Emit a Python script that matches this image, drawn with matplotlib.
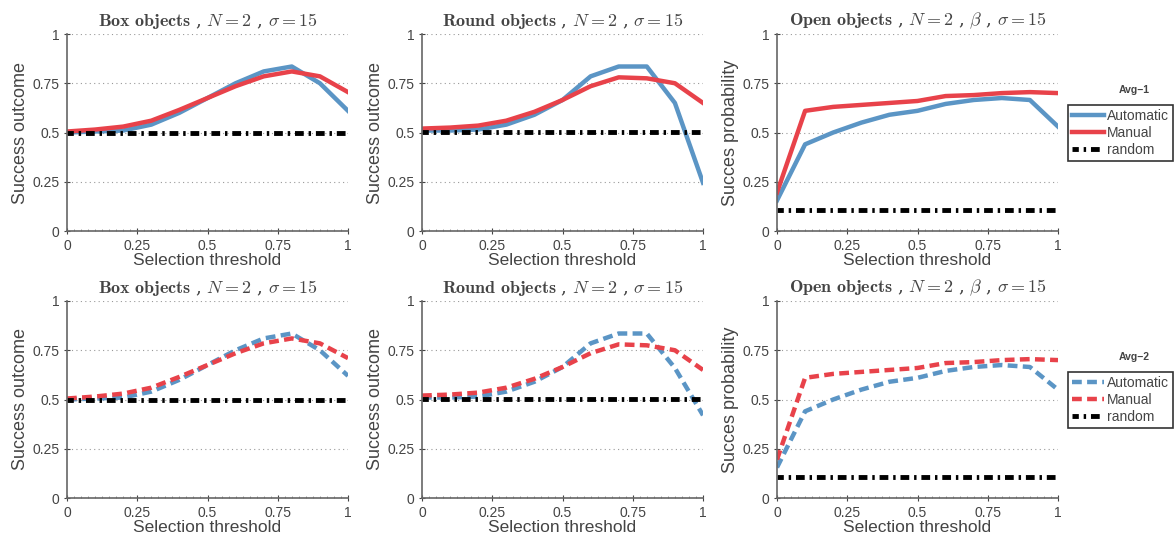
import numpy as np
import matplotlib
matplotlib.use("Agg")
import matplotlib.pyplot as plt
from matplotlib.ticker import MultipleLocator

plt.rcParams['font.family'] = ['Liberation Sans', 'DejaVu Sans']
plt.rcParams['mathtext.fontset'] = 'cm'

# data
thr = [0, 0.1, 0.2, 0.3, 0.4, 0.5, 0.6, 0.7, 0.8, 0.9, 1.0]

box_auto_1 = [0.50, 0.505, 0.51, 0.54, 0.60, 0.675, 0.75, 0.81, 0.835, 0.75, 0.61]
box_man_1 = [0.505, 0.515, 0.53, 0.56, 0.615, 0.675, 0.735, 0.785, 0.81, 0.785, 0.705]
round_auto_1 = [0.51, 0.51, 0.515, 0.54, 0.59, 0.665, 0.785, 0.835, 0.835, 0.65, 0.245]
round_man_1 = [0.52, 0.525, 0.535, 0.56, 0.605, 0.665, 0.735, 0.78, 0.775, 0.75, 0.65]
open_auto_1 = [0.155, 0.44, 0.50, 0.55, 0.59, 0.61, 0.645, 0.665, 0.675, 0.665, 0.53]
open_man_1 = [0.195, 0.61, 0.63, 0.64, 0.65, 0.66, 0.685, 0.69, 0.70, 0.705, 0.70]

box_auto_2 = [0.50, 0.505, 0.51, 0.54, 0.60, 0.675, 0.75, 0.81, 0.835, 0.75, 0.62]
box_man_2 = [0.505, 0.515, 0.53, 0.56, 0.615, 0.675, 0.735, 0.785, 0.81, 0.785, 0.71]
round_auto_2 = [0.51, 0.51, 0.515, 0.54, 0.59, 0.665, 0.785, 0.835, 0.835, 0.66, 0.42]
round_man_2 = [0.52, 0.525, 0.535, 0.56, 0.605, 0.665, 0.735, 0.78, 0.775, 0.75, 0.65]
open_auto_2 = [0.155, 0.44, 0.50, 0.55, 0.59, 0.61, 0.645, 0.665, 0.675, 0.665, 0.55]
open_man_2 = [0.195, 0.61, 0.63, 0.64, 0.65, 0.66, 0.685, 0.69, 0.70, 0.705, 0.70]

random_box = 0.50
random_round = 0.505
random_open = 0.105

titles = [r"$\bf{Box\ objects}$ , $N=2$ , $\sigma=15$",
          r"$\bf{Round\ objects}$ , $N=2$ , $\sigma=15$",
          r"$\bf{Open\ objects}$ , $N=2$ , $\beta$ , $\sigma=15$"]
ylabels = ["Success outcome", "Success outcome", "Succes probability"]
ticks = [0, 0.25, 0.5, 0.75, 1]
ticklabels = ["0", "0.25", "0.5", "0.75", "1"]
avg_names = ["Avg\u22121", "Avg\u22122"]

blue = "#5b95c5"
red = "#e8424a"
grey = "#444444"

rows = [
    [(box_auto_1, box_man_1, random_box), (round_auto_1, round_man_1, random_round), (open_auto_1, open_man_1, random_open)],
    [(box_auto_2, box_man_2, random_box), (round_auto_2, round_man_2, random_round), (open_auto_2, open_man_2, random_open)],
]

fig = plt.figure(figsize=(11.74, 5.41), dpi=100)
W, H = 1174, 541
lefts = [67, 422, 777]
tops = [34, 301]
aw, ah = 281, 197

for r in range(2):
    ls = '-' if r == 0 else (0, (2.2, 1.2))
    for c in range(3):
        ax = fig.add_axes([lefts[c] / W, 1 - (tops[r] + ah) / H, aw / W, ah / H])
        auto, man, rnd = rows[r][c]
        la, = ax.plot(thr, auto, color=blue, lw=3.2, linestyle=ls, label="Automatic")
        lm, = ax.plot(thr, man, color=red, lw=3.2, linestyle=ls, label="Manual")
        lr, = ax.plot([0, 1], [rnd, rnd], color='black', lw=3.5,
                      linestyle=(0.5, (1.8, 1.0, 0.5, 1.0)), label="random")
        ax.set_xlim(0, 1)
        ax.set_ylim(0, 1)
        ax.set_yticks(ticks)
        ax.set_yticklabels(ticklabels)
        ax.set_xticks(ticks)
        ax.set_xticklabels(ticklabels)
        ax.xaxis.set_minor_locator(MultipleLocator(0.025))
        ax.yaxis.grid(True, linestyle=(0, (1, 3)), color='#999999', lw=0.8)
        ax.set_axisbelow(True)
        for s in ['top', 'right']:
            ax.spines[s].set_visible(False)
        for s in ['left', 'bottom']:
            ax.spines[s].set_color('#666666')
            ax.spines[s].set_linewidth(1.2)
        ax.tick_params(colors=grey, labelsize=10, length=4, width=0.8, direction='inout')
        ax.tick_params(axis='x', which='minor', length=1.5, width=0.6, direction='in', colors='#888888')
        ax.set_xlabel("Selection threshold", fontsize=12.5, color=grey, labelpad=0)
        ax.set_ylabel(ylabels[c], fontsize=13, color=grey, labelpad=2)
        ax.set_title(titles[c], fontsize=13, color=grey, pad=6, family='DejaVu Serif')
        if c == 2:
            leg = ax.legend(handles=[la, lm, lr], loc='upper left',
                            bbox_to_anchor=(1.036, 0.64), fontsize=10,
                            frameon=True, fancybox=False, handlelength=2.3,
                            handletextpad=0.2, borderpad=0.3, labelspacing=0.2,
                            borderaxespad=0)
            leg.get_frame().set_edgecolor('black')
            leg.get_frame().set_linewidth(1.2)
            for t in leg.get_texts():
                t.set_color(grey)
            ax.text(1.27, 0.715, avg_names[r],
                    transform=ax.transAxes, fontsize=7.5, fontweight='bold',
                    color=grey, ha='center', va='center')

fig.savefig("out.png", dpi=100)
